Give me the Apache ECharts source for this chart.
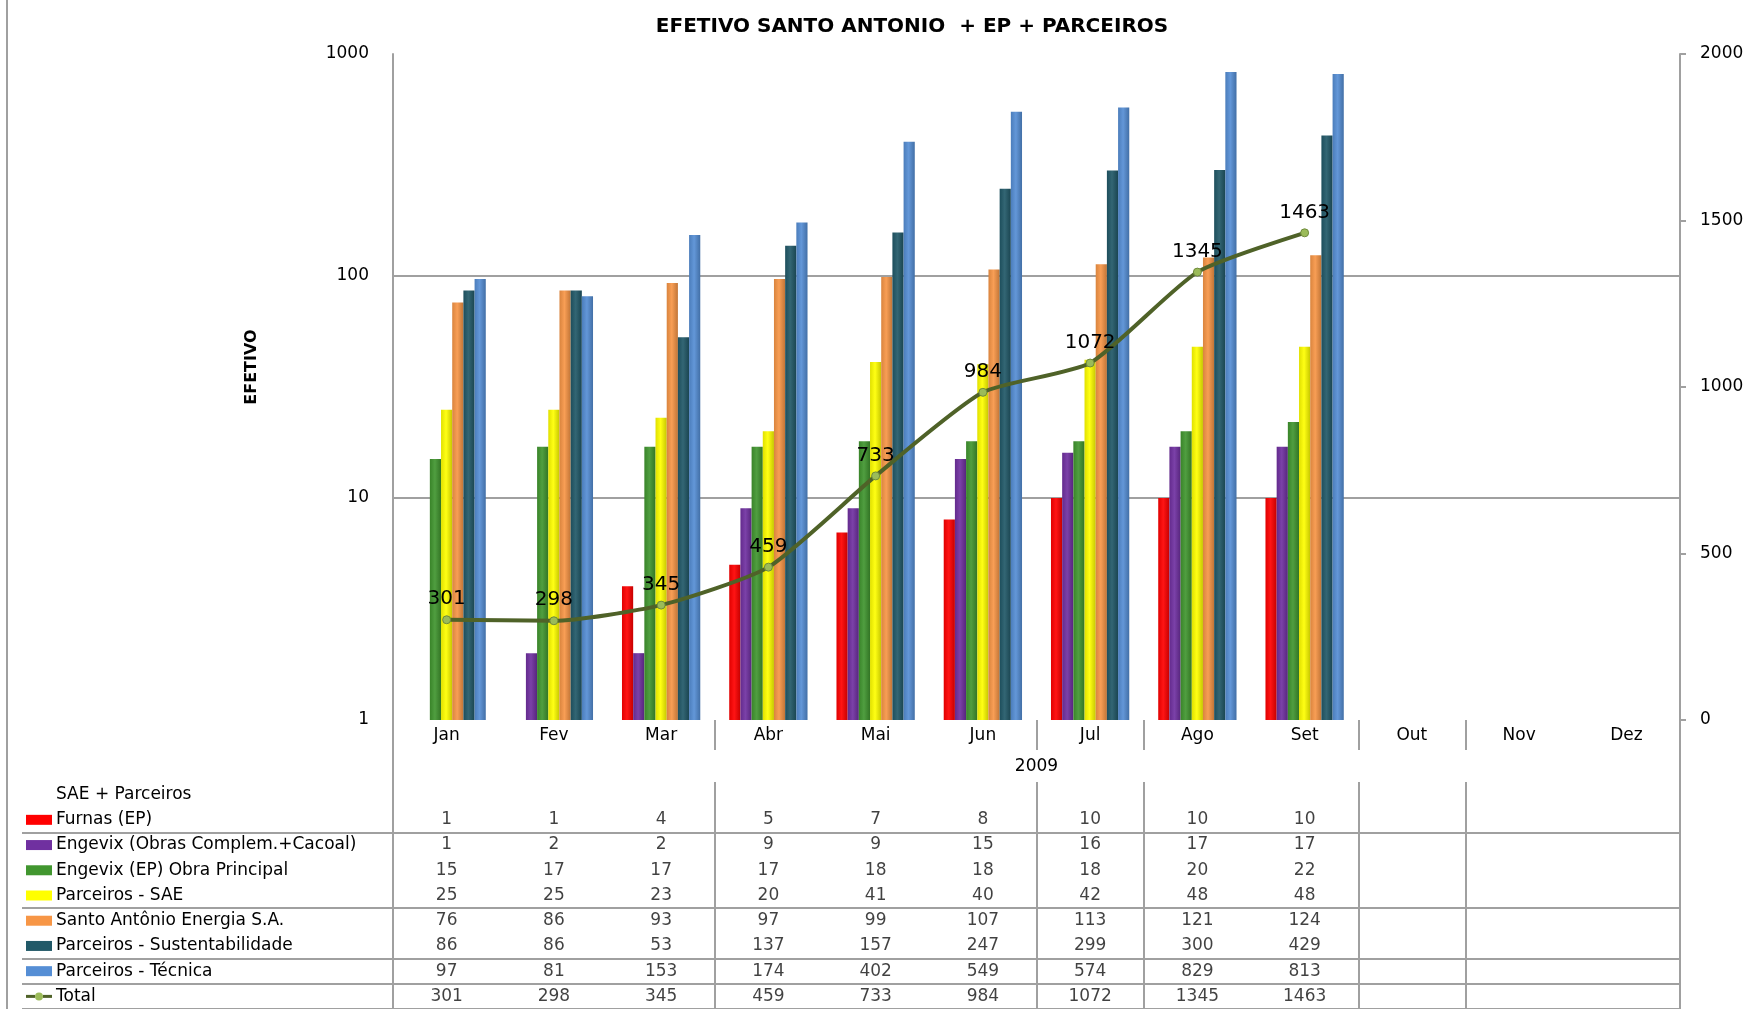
<!DOCTYPE html>
<html><head><meta charset="utf-8">
<script src="https://cdn.jsdelivr.net/npm/echarts@6/dist/echarts.min.js"></script>
<style>html,body{margin:0;padding:0;background:#fff}#c{width:1755px;height:1009px}</style>
</head><body><div id="c"></div>
<script>
// ---------- data ----------
const months = ['Jan','Fev','Mar','Abr','Mai','Jun','Jul','Ago','Set','Out','Nov','Dez'];
const furnas           = [1, 1, 4, 5, 7, 8, 10, 10, 10];
const engevixObras     = [1, 2, 2, 9, 9, 15, 16, 17, 17];
const engevixEP        = [15, 17, 17, 17, 18, 18, 18, 20, 22];
const parceirosSAE     = [25, 25, 23, 20, 41, 40, 42, 48, 48];
const santoAntonio     = [76, 86, 93, 97, 99, 107, 113, 121, 124];
const sustentabilidade = [86, 86, 53, 137, 157, 247, 299, 300, 429];
const tecnica          = [97, 81, 153, 174, 402, 549, 574, 829, 813];
const total            = [301, 298, 345, 459, 733, 984, 1072, 1345, 1463];
const seriesNames = ['Furnas (EP)', 'Engevix (Obras Complem.+Cacoal)', 'Engevix (EP) Obra Principal',
  'Parceiros - SAE', 'Santo Antônio Energia S.A.', 'Parceiros - Sustentabilidade', 'Parceiros - Técnica'];
const totalName = 'Total';
const tableHeader = 'SAE + Parceiros';
const yearLabel = '2009';
const titleText = 'EFETIVO SANTO ANTONIO  + EP + PARCEIROS';
const leftAxisName = 'EFETIVO';
const rightAxisMin = 0, rightAxisMax = 2000, rightAxisInterval = 500;
const leftAxisMin = 1, leftAxisMax = 1000;

// ---------- style ----------
const barColors = ['#FF0000', '#7030A0', '#41962F', '#FFFF00', '#F79646', '#215968', '#558ED5'];
const lineColor = '#4F6228', markerColor = '#9BBB59';
const gridGray = '#a0a0a0';
const FONT = 'DejaVu Sans';
const categorySeparators = [3, 6, 7, 9, 10];   // category boundaries with a separator
const tableRowLines = [2, 5, 7, 8];            // table row boundaries with a line

const barData = [furnas, engevixObras, engevixEP, parceirosSAE, santoAntonio, sustentabilidade, tecnica];
const tableRows = [tableHeader].concat(seriesNames, [totalName]);

function shade(hex, f) {
  const n = parseInt(hex.slice(1), 16);
  let r = n >> 16, g = (n >> 8) & 255, b = n & 255;
  const t = f < 0 ? 0 : 255, p = Math.abs(f);
  r = Math.round((t - r) * p + r); g = Math.round((t - g) * p + g); b = Math.round((t - b) * p + b);
  return 'rgb(' + r + ',' + g + ',' + b + ')';
}

const chart = echarts.init(document.getElementById('c'), null, {renderer: 'canvas'});

const barSeries = barData.map((d, k) => ({
  name: seriesNames[k], type: 'bar', xAxisIndex: 0, yAxisIndex: 0,
  data: d, barGap: 0, barCategoryGap: '27%',
  itemStyle: {
    color: new echarts.graphic.LinearGradient(0, 0, 1, 0, [
      {offset: 0, color: shade(barColors[k], -0.12)},
      {offset: 0.45, color: shade(barColors[k], 0.08)},
      {offset: 1, color: shade(barColors[k], -0.22)}
    ])
  }
}));

const tableData = [];
barData.forEach((d, k) => d.forEach((v, i) => tableData.push([i, k + 1, v])));
total.forEach((v, i) => tableData.push([i, 8, v]));

const rich = {
  t: {fontSize: 17, fontFamily: FONT, color: '#000', padding: [0, 0, 0, 4]},
  hd: {fontSize: 17, fontFamily: FONT, color: '#000', padding: [0, 0, 0, 30]},
  la: {width: 9, height: 3, backgroundColor: lineColor},
  lb: {width: 9, height: 3, backgroundColor: lineColor},
  dt: {width: 8, height: 8, borderRadius: 4, backgroundColor: markerColor}
};
barColors.forEach((c, k) => { rich['s' + k] = {width: 26, height: 10, backgroundColor: c}; });

const plain = (v) => String(v);

const option = {
  animation: false,
  backgroundColor: '#fff',
  textStyle: {fontFamily: FONT},
  title: {
    text: titleText, left: 907, top: 12, textAlign: 'center',
    textStyle: {fontFamily: FONT, fontSize: 20, fontWeight: 'bold', color: '#000'}
  },
  graphic: [{type: 'line', shape: {x1: 7, y1: 0, x2: 7, y2: 1009}, style: {stroke: gridGray, lineWidth: 2}}],
  grid: [
    {left: 393, right: 75, top: 54, height: 666},
    {left: 22, right: 75, top: 782, height: 229},
    {left: 393, right: 75, top: 782, height: 229},
    {left: 393, right: 75, top: 720, bottom: 0}
  ],
  xAxis: [
    {type: 'category', gridIndex: 0, data: months,
      axisLine: {show: false},
      axisTick: {show: true, interval: (i) => categorySeparators.includes(i), length: 30,
        lineStyle: {color: gridGray, width: 2}},
      axisLabel: {interval: 0, fontSize: 17, color: '#000', margin: 7, fontFamily: FONT},
      name: yearLabel, nameLocation: 'middle', nameGap: 38,
      nameTextStyle: {fontSize: 17, color: '#000', fontFamily: FONT}},
    {type: 'value', gridIndex: 1, show: false},
    {type: 'category', gridIndex: 2, data: months,
      axisLine: {show: false}, axisTick: {show: false}, axisLabel: {show: false},
      splitLine: {show: true, interval: (i) => categorySeparators.includes(i),
        lineStyle: {color: gridGray, width: 2}}},
    {type: 'value', gridIndex: 3, show: false}
  ],
  yAxis: [
    {type: 'log', gridIndex: 0, logBase: 10, min: leftAxisMin, max: leftAxisMax,
      axisLine: {show: true, lineStyle: {color: gridGray, width: 2}},
      axisTick: {show: false},
      axisLabel: {fontSize: 17, color: '#000', margin: 24, fontFamily: FONT, formatter: plain},
      splitLine: {show: true, showMinLine: false, showMaxLine: false, lineStyle: {color: gridGray, width: 2}},
      name: leftAxisName, nameLocation: 'middle', nameRotate: 90, nameGap: 133,
      nameTextStyle: {fontSize: 16, fontWeight: 'bold', color: '#000', fontFamily: FONT, padding: [0, 0, 0, 40]}},
    {type: 'value', gridIndex: 0, position: 'right', min: rightAxisMin, max: rightAxisMax, interval: rightAxisInterval,
      axisLine: {show: true, lineStyle: {color: gridGray, width: 2}},
      axisTick: {show: true, length: 6, lineStyle: {color: gridGray, width: 2}},
      axisLabel: {fontSize: 17, color: '#000', margin: 20, fontFamily: FONT, formatter: plain},
      splitLine: {show: false}},
    {type: 'category', gridIndex: 1, data: tableRows, inverse: true,
      axisLine: {show: false}, axisTick: {show: false},
      axisLabel: {inside: true, margin: 4, interval: 0, rich: rich,
        formatter: (v, i) => {
          if (i === 0) return '{hd|' + v + '}';
          if (i === 8) return '{la|}{dt|}{lb|}{t|' + v + '}';
          return '{s' + (i - 1) + '|}{t|' + v + '}';
        }},
      splitLine: {show: true, interval: (i) => tableRowLines.includes(i), lineStyle: {color: gridGray, width: 2}}},
    {type: 'category', gridIndex: 2, data: tableRows, inverse: true, show: false},
    {type: 'value', gridIndex: 3, position: 'left', axisLine: {show: true, lineStyle: {color: gridGray, width: 2}},
      axisTick: {show: false}, axisLabel: {show: false}, splitLine: {show: false}},
    {type: 'value', gridIndex: 3, position: 'right', axisLine: {show: true, lineStyle: {color: gridGray, width: 2}},
      axisTick: {show: false}, axisLabel: {show: false}, splitLine: {show: false}}
  ],
  series: barSeries.concat([
    {name: totalName, type: 'line', xAxisIndex: 0, yAxisIndex: 1, data: total, smooth: 0.2, z: 5,
      symbol: 'circle', symbolSize: 8,
      itemStyle: {color: markerColor, borderColor: '#6f8a3c', borderWidth: 1},
      lineStyle: {color: lineColor, width: 4},
      label: {show: true, position: 'top', distance: 6, fontSize: 20, color: '#000', fontFamily: FONT}},
    {name: 'tabela', type: 'scatter', xAxisIndex: 2, yAxisIndex: 3, data: tableData,
      symbolSize: 1, itemStyle: {color: 'rgba(0,0,0,0)'},
      label: {show: true, position: 'inside', fontSize: 17, color: '#111', fontFamily: FONT,
        formatter: (p) => String(p.value[2])}}
  ])
};
chart.setOption(option);
</script></body></html>
